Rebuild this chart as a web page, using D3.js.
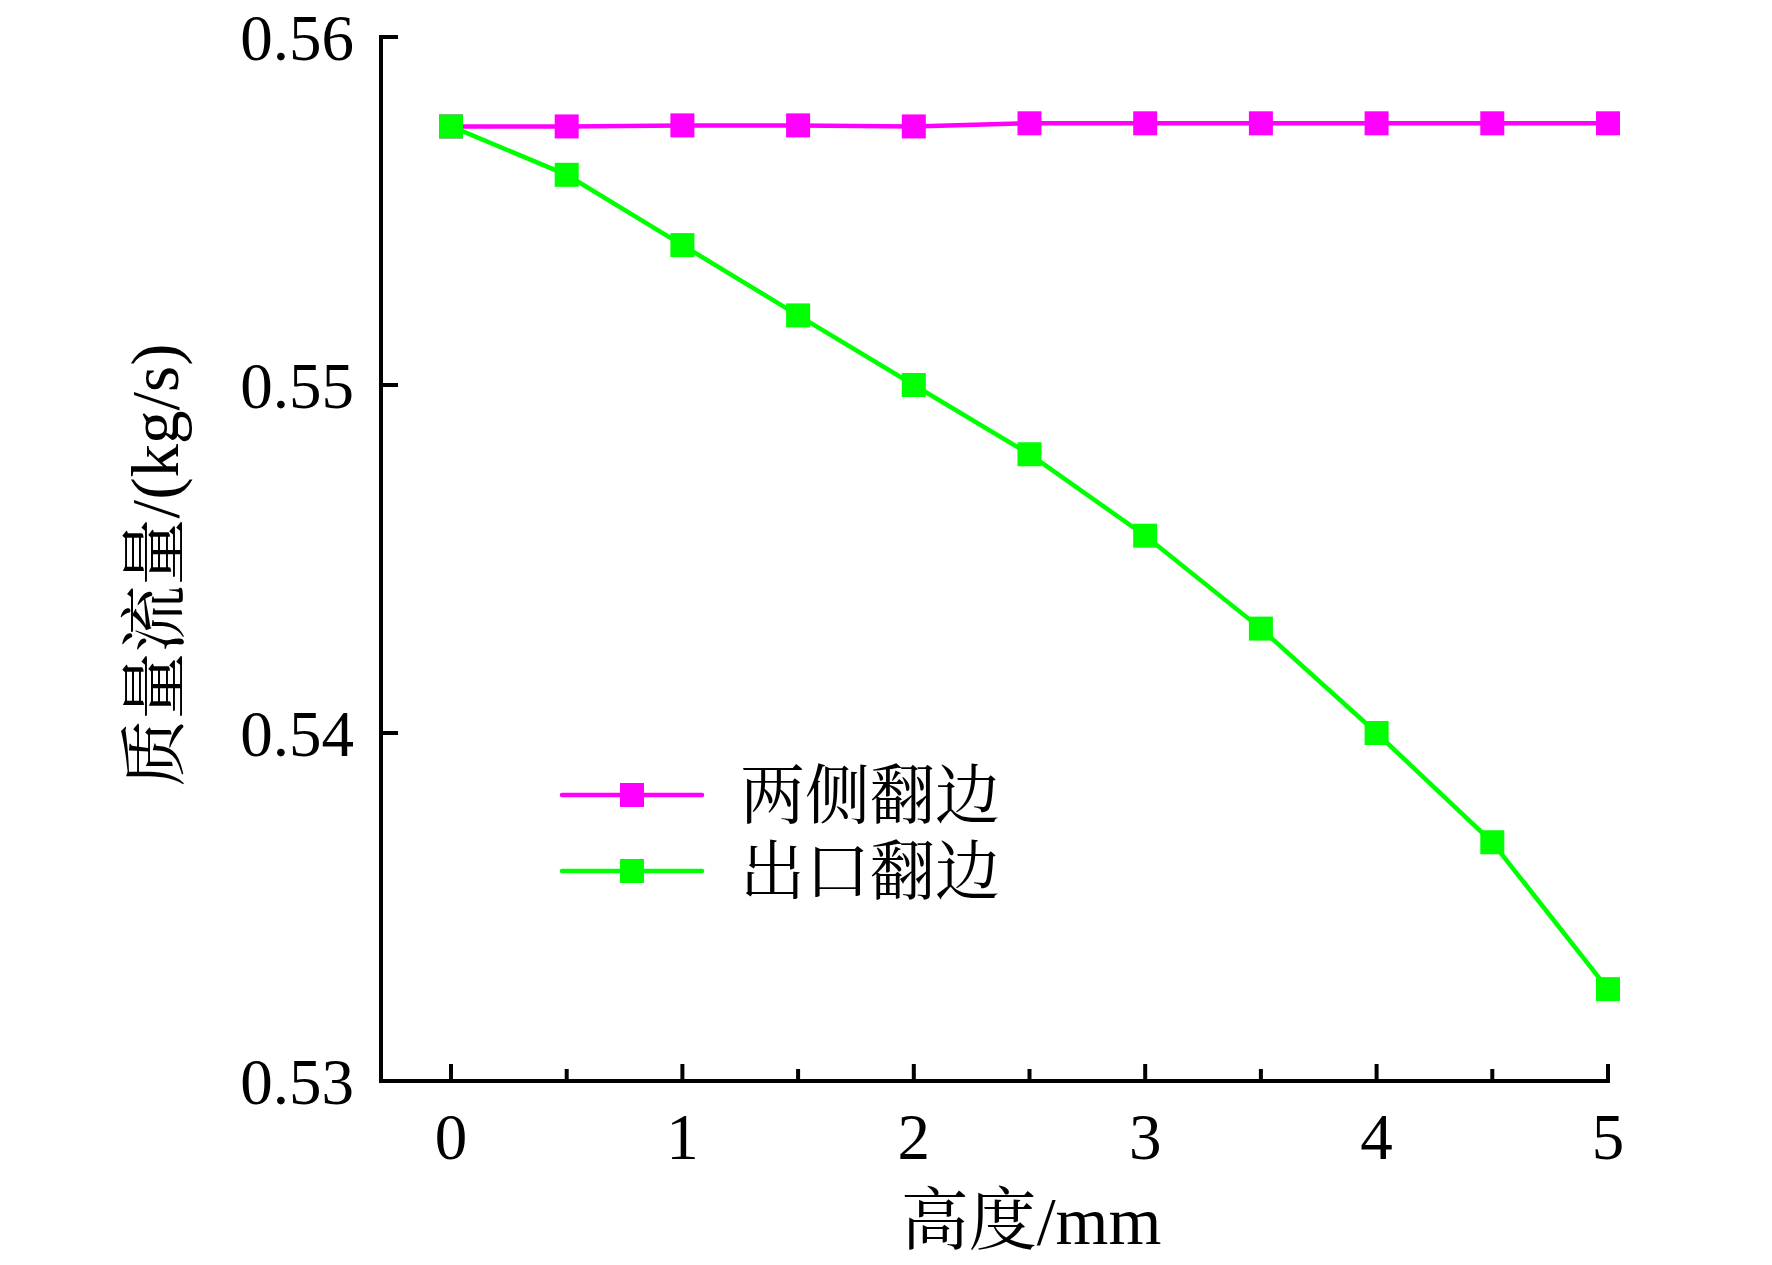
<!DOCTYPE html>
<html>
<head>
<meta charset="utf-8">
<script src="https://cdn.jsdelivr.net/npm/d3@7"></script>
<style>
body{margin:0;background:#fff;}
text{font-family:"Liberation Serif","Noto Serif CJK SC","Noto Sans CJK SC",serif;fill:#000;}
</style>
</head>
<body>
<svg id="chart"></svg>
<script>
// data
var heights=[0,0.5,1,1.5,2,2.5,3,3.5,4,4.5,5]
var bothSides=[0.55743,0.55743,0.55746,0.55746,0.55743,0.55752,0.55752,0.55752,0.55752,0.55752,0.55752]
var outletSide=[0.55743,0.55604,0.55402,0.55200,0.55000,0.54801,0.54567,0.54300,0.54000,0.53686,0.53264]
var seriesNames=["两侧翻边","出口翻边"]
var xTicks=[0,1,2,3,4,5]
var xMinorTicks=[0.5,1.5,2.5,3.5,4.5]
var yTicks=[0.53,0.54,0.55,0.56]

var screen={width:1772,height:1265}
var margins={left:381,top:37,right:164,bottom:184}
var graph={
    width:screen.width-margins.left-margins.right,
    height:screen.height-margins.top-margins.bottom
}

var svg=d3.select("#chart")
    .attr("width",screen.width)
    .attr("height",screen.height)

var x0=70   // x offset of value 0 from the y axis
var xScale=d3.scaleLinear()
    .domain([0,5])
    .range([x0,graph.width])
var yScale=d3.scaleLinear()
    .domain([0.53,0.56])
    .range([graph.height,0])

var plot=svg.append("g")
    .attr("transform","translate("+margins.left+","+margins.top+")")

//axes
var xAxis=plot.append("g")
    .attr("transform","translate(0,"+graph.height+")")
xAxis.append("line")
    .attr("x1",0).attr("x2",graph.width+2)
    .attr("stroke","#000").attr("stroke-width",4)
xAxis.selectAll(".major")
    .data(xTicks)
    .enter()
    .append("line")
    .attr("x1",function(d){return xScale(d)})
    .attr("x2",function(d){return xScale(d)})
    .attr("y1",0).attr("y2",-17)
    .attr("stroke","#000").attr("stroke-width",4)
xAxis.selectAll(".minor")
    .data(xMinorTicks)
    .enter()
    .append("line")
    .attr("x1",function(d){return xScale(d)})
    .attr("x2",function(d){return xScale(d)})
    .attr("y1",0).attr("y2",-12)
    .attr("stroke","#000").attr("stroke-width",4)
xAxis.selectAll("text")
    .data(xTicks)
    .enter()
    .append("text")
    .text(function(d){return d})
    .attr("x",function(d){return xScale(d)})
    .attr("y",78)
    .attr("text-anchor","middle")
    .attr("font-size",65)

var yAxis=plot.append("g")
yAxis.append("line")
    .attr("y1",-2).attr("y2",graph.height+2)
    .attr("stroke","#000").attr("stroke-width",4)
yAxis.selectAll(".tick")
    .data(yTicks)
    .enter()
    .append("line")
    .attr("y1",function(d){return yScale(d)})
    .attr("y2",function(d){return yScale(d)})
    .attr("x1",0).attr("x2",17)
    .attr("stroke","#000").attr("stroke-width",4)
yAxis.selectAll("text")
    .data(yTicks)
    .enter()
    .append("text")
    .text(function(d){return d3.format(".2f")(d)})
    .attr("x",-27)
    .attr("y",function(d){return yScale(d)})
    .attr("dy","0.36em")
    .attr("text-anchor","end")
    .attr("font-size",65)

//lines and markers
var lineGenerator=d3.line()
    .x(function(d,i){return xScale(heights[i])})
    .y(function(d){return yScale(d)})

var drawSeries=function(values,color){
    plot.append("path")
        .datum(values)
        .attr("d",lineGenerator)
        .attr("fill","none")
        .attr("stroke",color)
        .attr("stroke-width",4.5)
    plot.append("g")
        .selectAll("rect")
        .data(values)
        .enter()
        .append("rect")
        .attr("x",function(d,i){return xScale(heights[i])-12})
        .attr("y",function(d){return yScale(d)-12})
        .attr("width",24)
        .attr("height",24)
        .attr("fill",color)
}
drawSeries(bothSides,"#ff00ff")
drawSeries(outletSide,"#00ff00")

//legend
var colors=["#ff00ff","#00ff00"]
var legend=svg.append("g")
var rows=legend.selectAll("g")
    .data(seriesNames)
    .enter()
    .append("g")
    .attr("transform",function(d,i){return "translate(562,"+(795+i*76)+")"})
rows.append("line")
    .attr("x1",0).attr("x2",140)
    .attr("stroke",function(d,i){return colors[i]})
    .attr("stroke-width",4.5)
    .attr("stroke-linecap","round")
rows.append("rect")
    .attr("x",58).attr("y",-12)
    .attr("width",24).attr("height",24)
    .attr("fill",function(d,i){return colors[i]})
rows.append("text")
    .text(function(d){return d})
    .attr("x",178)
    .attr("dy","0.36em")
    .attr("font-size",65)

//axis titles
svg.append("text")
    .text("高度/mm")
    .attr("x",1031)
    .attr("y",1244)
    .attr("text-anchor","middle")
    .attr("font-size",68)
svg.append("g")
    .attr("transform","translate(178,565)")
    .append("text")
    .text("质量流量/(kg/s)")
    .attr("text-anchor","middle")
    .attr("transform","rotate(270)")
    .attr("font-size",67)
</script>
</body>
</html>
